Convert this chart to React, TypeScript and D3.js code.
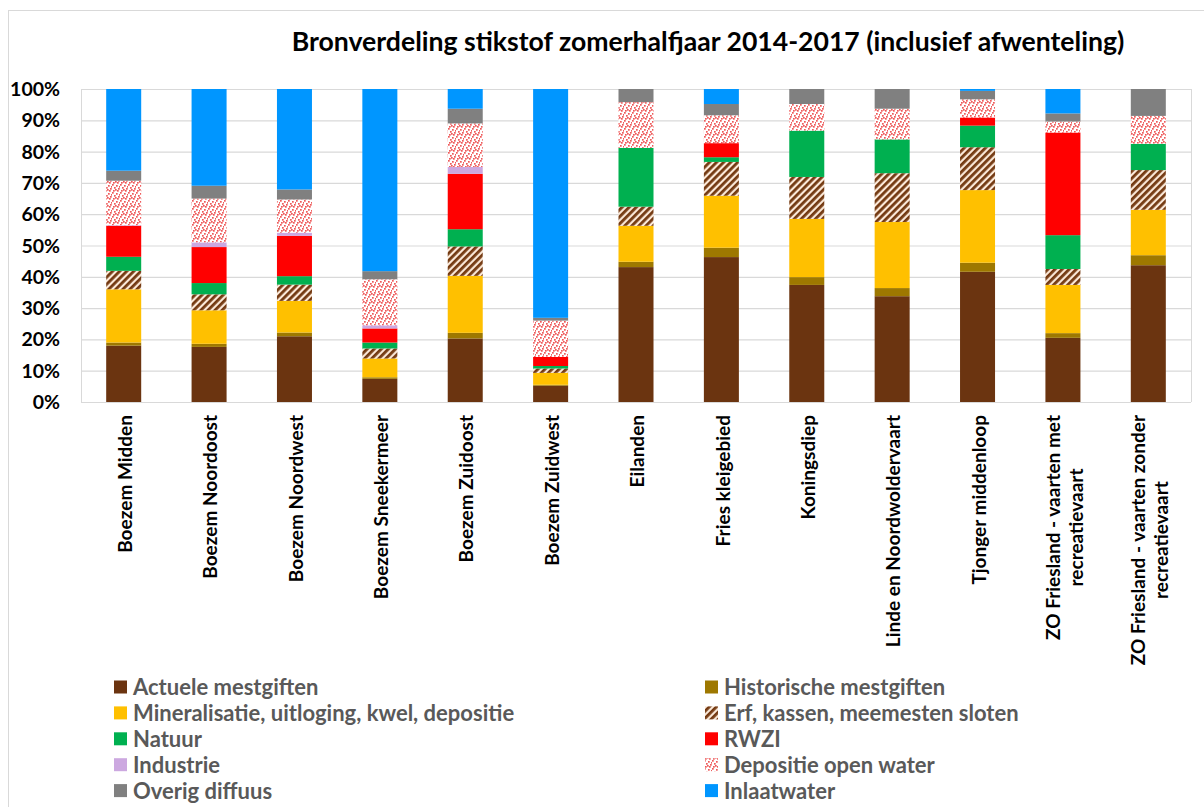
import React, { useEffect, useRef } from "react";
import * as d3 from "d3";

const title = "Bronverdeling stikstof zomerhalfjaar 2014-2017 (inclusief afwenteling)";

const categories = [
  "Boezem Midden",
  "Boezem Noordoost",
  "Boezem Noordwest",
  "Boezem Sneekermeer",
  "Boezem Zuidoost",
  "Boezem Zuidwest",
  "Eilanden",
  "Fries kleigebied",
  "Koningsdiep",
  "Linde en Noordwoldervaart",
  "Tjonger middenloop",
  "ZO Friesland - vaarten met recreatievaart",
  "ZO Friesland - vaarten zonder recreatievaart",
];

const categoryLines = [
  ["Boezem Midden"],
  ["Boezem Noordoost"],
  ["Boezem Noordwest"],
  ["Boezem Sneekermeer"],
  ["Boezem Zuidoost"],
  ["Boezem Zuidwest"],
  ["Eilanden"],
  ["Fries kleigebied"],
  ["Koningsdiep"],
  ["Linde en Noordwoldervaart"],
  ["Tjonger middenloop"],
  ["ZO Friesland - vaarten met", "recreatievaart"],
  ["ZO Friesland - vaarten zonder", "recreatievaart"],
];

const seriesNames = [
  "Actuele mestgiften",
  "Historische mestgiften",
  "Mineralisatie, uitloging, kwel, depositie",
  "Erf, kassen, meemesten sloten",
  "Natuur",
  "RWZI",
  "Industrie",
  "Depositie open water",
  "Overig diffuus",
  "Inlaatwater",
];

const actuele = [18.0, 17.6, 21.0, 7.4, 20.3, 5.2, 43.1, 46.3, 37.4, 33.8, 41.6, 20.5, 43.7];
const historische = [1.0, 1.0, 1.2, 0.5, 1.8, 0.3, 1.7, 3.0, 2.5, 2.6, 2.9, 1.5, 3.2];
const mineralisatie = [17.0, 10.7, 10.1, 6.0, 18.2, 3.8, 11.5, 16.6, 18.6, 21.1, 23.2, 15.4, 14.5];
const erf = [5.9, 5.1, 5.2, 3.2, 9.4, 1.4, 6.1, 10.8, 13.4, 15.6, 13.7, 5.1, 12.7];
const natuur = [4.5, 3.6, 2.7, 1.9, 5.5, 0.8, 18.8, 1.5, 14.8, 10.8, 6.9, 10.8, 8.4];
const rwzi = [9.9, 11.5, 12.9, 4.5, 17.7, 2.9, 0, 4.5, 0, 0, 2.6, 32.8, 0];
const industrie = [0.2, 1.5, 1.0, 1.0, 2.2, 0, 0, 0, 0, 0, 0, 0, 0];
const depositie = [14.2, 14.0, 10.6, 14.7, 13.9, 11.6, 14.6, 8.9, 8.5, 9.8, 5.8, 3.5, 8.9];
const overig = [3.2, 4.1, 3.2, 2.6, 4.7, 0.9, 4.2, 3.6, 4.8, 6.3, 2.7, 2.6, 8.6];
const inlaat = [26.1, 30.9, 32.1, 58.2, 6.3, 73.1, 0, 4.8, 0, 0, 0.6, 7.8, 0];

const yTicks = [0, 10, 20, 30, 40, 50, 60, 70, 80, 90, 100];

const seriesValues = [actuele, historische, mineralisatie, erf, natuur, rwzi, industrie, depositie, overig, inlaat];
const seriesFills = [
  "#6b3410",
  "#9e7800",
  "#ffc000",
  "url(#hatchErf)",
  "#00b050",
  "#ff0000",
  "#cca8e0",
  "url(#dotsDep)",
  "#808080",
  "#0096ff",
];

const FONT = "Lato, 'Open Sans', sans-serif";

export default function App() {
  const ref = useRef<SVGSVGElement | null>(null);

  useEffect(() => {
    const svg = d3.select(ref.current);
    svg.selectAll("*").remove();

    const x0 = 81, x1 = 1191, yTop = 89, yBot = 402;

    const defs = svg.append("defs");
    const hatch = defs
      .append("pattern")
      .attr("id", "hatchErf")
      .attr("patternUnits", "userSpaceOnUse")
      .attr("width", 5)
      .attr("height", 5)
      .attr("patternTransform", "rotate(45)");
    hatch.append("rect").attr("width", 5).attr("height", 5).attr("fill", "#fbe9d9");
    hatch.append("rect").attr("width", 2.8).attr("height", 5).attr("fill", "#743a12");

    const dots = defs
      .append("pattern")
      .attr("id", "dotsDep")
      .attr("patternUnits", "userSpaceOnUse")
      .attr("width", 8)
      .attr("height", 8);
    dots.append("rect").attr("width", 8).attr("height", 8).attr("fill", "#ffffff");
    const dotPos = [
      [0, 0], [4, 1], [2, 3], [6, 4], [1, 6], [5, 6], [3, 5], [7, 2],
    ];
    dotPos.forEach(([dx, dy]) =>
      dots.append("rect").attr("x", dx).attr("y", dy).attr("width", 1.7).attr("height", 1.7).attr("fill", "#ee5a5a")
    );

    // outer frame
    svg
      .append("rect")
      .attr("x", 8.5)
      .attr("y", 10.5)
      .attr("width", 1220)
      .attr("height", 820)
      .attr("fill", "none")
      .attr("stroke", "#d9d9d9");

    const xScale = d3.scaleBand<string>().domain(categories).range([x0, x1]).paddingInner(0.59).paddingOuter(0.295);
    const yScale = d3.scaleLinear().domain([0, 100]).range([yBot, yTop]);

    // grid
    svg
      .append("g")
      .selectAll("line")
      .data(yTicks)
      .join("line")
      .attr("x1", x0)
      .attr("x2", x1)
      .attr("y1", (d) => yScale(d) + 0.5)
      .attr("y2", (d) => yScale(d) + 0.5)
      .attr("stroke", "#d9d9d9")
      .attr("stroke-width", 1.2);
    svg
      .append("line")
      .attr("x1", x0 + 0.5)
      .attr("x2", x0 + 0.5)
      .attr("y1", yTop)
      .attr("y2", yBot)
      .attr("stroke", "#d9d9d9");
    svg
      .append("line")
      .attr("x1", x1 + 0.5)
      .attr("x2", x1 + 0.5)
      .attr("y1", yTop)
      .attr("y2", yBot)
      .attr("stroke", "#d9d9d9");

    // y labels
    svg
      .append("g")
      .selectAll("text")
      .data(yTicks)
      .join("text")
      .attr("x", 60)
      .attr("y", (d) => yScale(d))
      .attr("dy", "0.36em")
      .attr("text-anchor", "end")
      .attr("font-family", FONT)
      .attr("font-weight", 700)
      .attr("font-size", 19.5)
      .attr("fill", "#000")
      .text((d) => `${d}%`);

    // stacked bars
    const rows = categories.map((c, i) => {
      const r: Record<string, any> = { cat: c };
      seriesNames.forEach((s, k) => (r[s] = seriesValues[k][i]));
      return r;
    });
    const stack = d3.stack<any>().keys(seriesNames)(rows);
    const bars = svg.append("g");
    stack.forEach((layer, k) => {
      bars
        .append("g")
        .selectAll("rect")
        .data(layer)
        .join("rect")
        .attr("x", (d: any) => xScale(d.data.cat)!)
        .attr("width", xScale.bandwidth())
        .attr("y", (d: any) => yScale(d[1]))
        .attr("height", (d: any) => Math.max(0, yScale(d[0]) - yScale(d[1])))
        .attr("fill", seriesFills[k]);
    });

    // x labels
    const xl = svg.append("g");
    categories.forEach((c, i) => {
      const lines = categoryLines[i];
      const cx = xScale(c)! + xScale.bandwidth() / 2;
      const lineH = 23;
      const g = xl.append("g").attr("transform", `translate(${cx + 1},${415}) rotate(-90)`);
      const texts = lines.map((ln, j) =>
        g
          .append("text")
          .attr("font-family", FONT)
          .attr("font-weight", 700)
          .attr("font-size", 19)
          .attr("fill", "#000")
          .attr("y", (j - (lines.length - 1) / 2) * lineH)
          .attr("dy", "0.38em")
          .text(ln)
      );
      const widths = texts.map((t) => (t.node() as SVGTextElement).getComputedTextLength());
      const maxW = Math.max(...widths);
      texts.forEach((t) => t.attr("x", -maxW / 2).attr("text-anchor", "middle"));
    });

    // title
    svg
      .append("text")
      .attr("x", 708)
      .attr("y", 51)
      .attr("text-anchor", "middle")
      .attr("font-family", FONT)
      .attr("font-weight", 700)
      .attr("font-size", 26.6)
      .attr("fill", "#000")
      .text(title);

    // legend
    const lg = svg.append("g");
    seriesNames.forEach((s, k) => {
      const col = k % 2;
      const row = Math.floor(k / 2);
      const sx = col === 0 ? 114 : 705;
      const cy = 687 + row * 25.9;
      lg.append("rect")
        .attr("x", sx)
        .attr("y", cy - 6.5)
        .attr("width", 13)
        .attr("height", 13)
        .attr("fill", seriesFills[k]);
      lg.append("text")
        .attr("x", sx + 19)
        .attr("y", cy)
        .attr("dy", "0.36em")
        .attr("font-family", FONT)
        .attr("font-weight", 700)
        .attr("font-size", 22)
        .attr("fill", "#595959")
        .text(s);
    });
  }, []);

  return (
    <svg
      ref={ref}
      width={1204}
      height={807}
      style={{ position: "absolute", left: 0, top: 0, display: "block", background: "#fff" }}
    />
  );
}
